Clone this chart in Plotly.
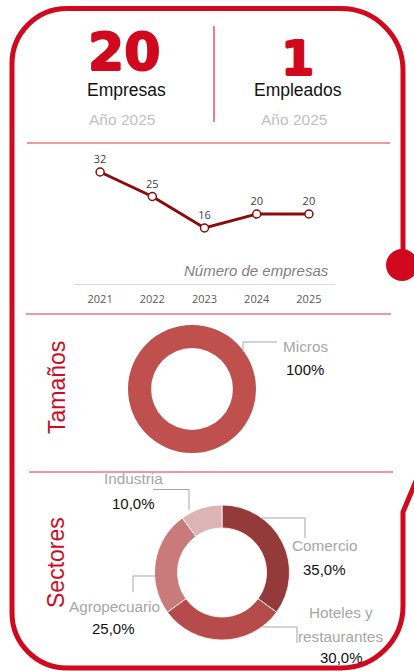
import plotly.graph_objects as go

# ---------------- data ----------------
years = ["2021", "2022", "2023", "2024", "2025"]
empresas = [32, 25, 16, 20, 20]
total_empresas = 20
total_empleados = 1
anio = 2025
tamanos_labels = ["Micros"]
tamanos_vals = [100]
sector_labels = ["Comercio", "Hoteles y restaurantes", "Agropecuario", "Industria"]
sector_vals = [35, 30, 25, 10]
sector_colors = ["#953A3A", "#B54B4A", "#C97B7B", "#DDB4B4"]

W, H = 414, 671
RED = "#D0091E"
GRAY_LBL = "#A6A6A6"
ARIAL = "Liberation Sans, Arial, sans-serif"


def X(px):
    return px / W


def Y(py):
    return 1 - py / H


def P(x, y):
    return f"{X(x):.5f},{Y(y):.5f}"


fig = go.Figure()

# line chart
fig.add_trace(go.Scatter(
    x=years, y=empresas, mode="lines+markers+text",
    text=[str(v) for v in empresas], textposition="top center",
    textfont=dict(family="Open Sans, Noto Sans, sans-serif", size=11, color="#404040"),
    line=dict(color="#8B0A0A", width=3),
    marker=dict(size=8, color="white", line=dict(color="#8B0A0A", width=1.5)),
    cliponaxis=False, hoverinfo="skip", showlegend=False,
))

# donut: tamaños
fig.add_trace(go.Pie(
    labels=tamanos_labels, values=tamanos_vals, hole=0.64, sort=False,
    direction="clockwise", rotation=0, textinfo="none", hoverinfo="skip",
    marker=dict(colors=["#C0504D"], line=dict(color="white", width=0)),
    domain=dict(x=[X(128), X(256)], y=[Y(453), Y(325)]), showlegend=False,
))

# donut: sectores
fig.add_trace(go.Pie(
    labels=sector_labels, values=sector_vals, hole=0.66, sort=False,
    direction="clockwise", rotation=0, textinfo="none", hoverinfo="skip",
    marker=dict(colors=sector_colors, line=dict(color="white", width=0.8)),
    domain=dict(x=[X(154.5), X(289.5)], y=[Y(640), Y(505)]), showlegend=False,
))

shapes = []
# outer frame
k = 0.5523
r1, r2, r3, r4 = 55, 62, 62, 55
top, bot, left, right = 8.5, 668, 12, 403
path = (
    f"M {P(right, 265)} L {P(right, top + r2)} "
    f"C {P(right, top + r2 - k * r2)} {P(right - r2 + k * r2, top)} {P(right - r2, top)} "
    f"L {P(left + r1, top)} "
    f"C {P(left + r1 - k * r1, top)} {P(left, top + r1 - k * r1)} {P(left, top + r1)} "
    f"L {P(left, bot - r4)} "
    f"C {P(left, bot - r4 + k * r4)} {P(left + r4 - k * r4, bot)} {P(left + r4, bot)} "
    f"L {P(right - r3, bot)} "
    f"C {P(right - r3 + k * r3, bot)} {P(right, bot - r3 + k * r3)} {P(right, bot - r3)} "
    f"L {P(right, 512)} L {P(416, 481)}"
)
shapes.append(dict(type="path", xref="paper", yref="paper", path=path,
                   line=dict(color=RED, width=5)))
# dot
cr = 16
shapes.append(dict(type="circle", xref="paper", yref="paper",
                   x0=X(402 - cr), x1=X(402 + cr), y0=Y(265 + cr), y1=Y(265 - cr),
                   fillcolor=RED, line=dict(color=RED, width=0)))
# separators
for (x0, x1, yy) in [(27, 390, 143), (26, 391, 314), (29, 393, 472)]:
    shapes.append(dict(type="line", xref="paper", yref="paper",
                       x0=X(x0), x1=X(x1), y0=Y(yy), y1=Y(yy),
                       line=dict(color="#E0303F", width=1)))
# vertical divider
shapes.append(dict(type="line", xref="paper", yref="paper",
                   x0=X(214), x1=X(214), y0=Y(26), y1=Y(122),
                   line=dict(color="#E8808F", width=2)))
# leader lines
leaders = [
    [(243, 352), (243, 342), (277, 342)],
    [(189, 510), (189, 489.5), (153, 489.5)],
    [(262, 518), (305, 518), (305, 538)],
    [(262, 627), (297, 627), (297, 643)],
    [(155, 576), (133, 576), (133, 592)],
]
for pts in leaders:
    d = "M " + " L ".join(P(a, b) for a, b in pts)
    shapes.append(dict(type="path", xref="paper", yref="paper", path=d,
                       line=dict(color=GRAY_LBL, width=1)))

ann = []


def T(text, x, y, size, color, family=ARIAL, **kw):
    font = dict(family=family, size=size, color=color,
                weight=kw.pop("weight", "normal"), style=kw.pop("style", "normal"))
    if "shadow" in kw:
        font["shadow"] = kw.pop("shadow")
    ann.append(dict(text=text, x=X(x), y=Y(y), xref="paper", yref="paper",
                    showarrow=False, xanchor=kw.pop("xanchor", "center"),
                    yanchor="middle", font=font, **kw))


BIG = "DejaVu Sans, sans-serif"
heavy = f"1px 0 0 {RED}, -1px 0 0 {RED}, 0 1px 0 {RED}, 0 -1px 0 {RED}"
T(str(total_empresas), 124, 52, 52, RED, family=BIG, weight="bold", shadow=heavy)
T(str(total_empleados), 297, 58, 48, RED, family=BIG, weight="bold", shadow=heavy)
T("Empresas", 126, 90, 17.5, "#111111")
T("Empleados", 298, 90, 17.5, "#111111")
T(f"Año {anio}", 122, 119, 15.5, "#BFBFBF")
T(f"Año {anio}", 294, 119, 15.5, "#BFBFBF")
T("Número de empresas", 331, 270, 15, "#7F7F7F", xanchor="right", style="italic")
T("Tamaños", 57, 388, 23, RED, textangle=-90)
T("Sectores", 56, 562, 23, RED, textangle=-90)


def pct(v):
    return f"{v:.1f}".replace(".", ",") + "%"


LS, PS = 15.3, 15
T(tamanos_labels[0], 305, 346, LS, GRAY_LBL)
T(f"{tamanos_vals[0]}%", 305, 369, PS, "#111111")

sector_pos = {
    "Comercio": [(324, 545), (324, 569)],
    "Hoteles y restaurantes": [(341, 612), (340, 636), (341, 657)],
    "Agropecuario": [(114, 606), (113, 628)],
    "Industria": [(133, 479), (133, 503)],
}
for lab, v in zip(sector_labels, sector_vals):
    pos = sector_pos[lab]
    if lab == "Hoteles y restaurantes":
        T("Hoteles y", pos[0][0], pos[0][1], LS, GRAY_LBL)
        T("restaurantes", pos[1][0], pos[1][1], LS, GRAY_LBL)
        T(pct(v), pos[2][0], pos[2][1], PS, "#111111")
    else:
        T(lab, pos[0][0], pos[0][1], LS, GRAY_LBL)
        T(pct(v), pos[1][0], pos[1][1], PS, "#111111")

fig.update_layout(
    width=W, height=H, margin=dict(l=0, r=0, t=0, b=0),
    paper_bgcolor="white", plot_bgcolor="white",
    shapes=shapes, annotations=ann,
    xaxis=dict(domain=[X(74), X(335)], type="category", range=[-0.5, 4.5],
               showgrid=False, zeroline=False, showline=True,
               linecolor="#D9D9D9", linewidth=1, ticks="outside", ticklen=5,
               tickcolor="rgba(0,0,0,0)",
               tickfont=dict(family="Open Sans, Noto Sans, sans-serif", size=11,
                             color="#595959"), fixedrange=True),
    yaxis=dict(domain=[Y(284), Y(144)], range=[0, 40], visible=False,
               showgrid=False, fixedrange=True),
)

fig.write_html("out.html", config={"displayModeBar": False},
               post_script="document.body.style.margin='0';document.body.style.overflow='hidden';")
